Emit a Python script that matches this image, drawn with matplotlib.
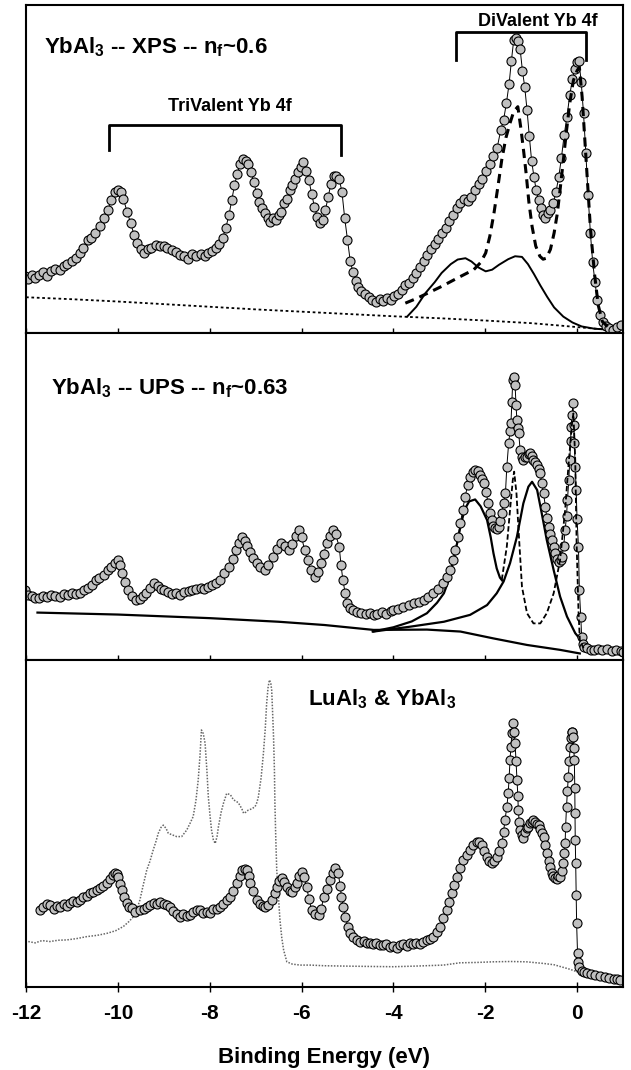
import matplotlib
matplotlib.use("Agg")
import matplotlib.pyplot as plt
from matplotlib import font_manager

names = {f.name for f in font_manager.fontManager.ttflist}
FONT = 'Liberation Sans Narrow' if 'Liberation Sans Narrow' in names else 'Liberation Sans'
plt.rcParams['font.family'] = [FONT, 'DejaVu Sans']
plt.rcParams['font.weight'] = 'bold'
plt.rcParams['mathtext.fontset'] = 'custom'
plt.rcParams['mathtext.rm'] = FONT + ':bold'
plt.rcParams['mathtext.it'] = FONT + ':bold'
plt.rcParams['mathtext.bf'] = FONT + ':bold'
plt.rcParams['mathtext.default'] = 'rm'

# ---------------- Data ----------------
# Top panel: YbAl3 XPS (binding energy eV, intensity in arbitrary units)
xps_e = [-12.03, -11.95, -11.88, -11.8, -11.71, -11.62, -11.55, -11.45, -11.36, -11.27, -11.18, -11.1, -11.0,
         -10.92, -10.83, -10.75, -10.66, -10.58, -10.49, -10.39, -10.3, -10.22, -10.14, -10.07, -10.0, -9.94,
         -9.88, -9.8, -9.72, -9.65, -9.58, -9.5, -9.43, -9.35, -9.27, -9.18, -9.08, -9.0, -8.92, -8.82, -8.73,
         -8.65, -8.56, -8.47, -8.38, -8.29, -8.2, -8.11, -8.03, -7.95, -7.87, -7.8, -7.72, -7.65, -7.58, -7.52,
         -7.46, -7.4, -7.34, -7.28, -7.22, -7.16, -7.1, -7.04, -6.98, -6.92, -6.86, -6.8, -6.74, -6.68, -6.62,
         -6.56, -6.5, -6.44, -6.38, -6.32, -6.26, -6.2, -6.14, -6.08, -6.02, -5.96, -5.9, -5.84, -5.78, -5.72,
         -5.66, -5.6, -5.54, -5.48, -5.42, -5.36, -5.3, -5.24, -5.18, -5.12, -5.06, -5.0, -4.94, -4.88, -4.82,
         -4.76, -4.7, -4.62, -4.54, -4.46, -4.38, -4.3, -4.22, -4.14, -4.06, -3.98, -3.9, -3.82, -3.74, -3.66,
         -3.58, -3.5, -3.42, -3.34, -3.26, -3.18, -3.1, -3.02, -2.94, -2.86, -2.78, -2.7, -2.62, -2.54, -2.46,
         -2.38, -2.3, -2.22, -2.14, -2.06, -1.98, -1.9, -1.82, -1.74, -1.66, -1.6, -1.54, -1.48, -1.43, -1.38,
         -1.33, -1.28, -1.24, -1.19, -1.14, -1.09, -1.04, -0.99, -0.94, -0.89, -0.84, -0.79, -0.74, -0.69,
         -0.64, -0.58, -0.52, -0.46, -0.4, -0.34, -0.28, -0.22, -0.16, -0.1, -0.05, 0.0, 0.04, 0.09, 0.14,
         0.19, 0.24, 0.29, 0.34, 0.39, 0.44, 0.5, 0.56, 0.63, 0.7, 0.78, 0.86, 0.95]
xps_i = [17.3, 16.5, 17.8, 16.8, 17.8, 18.5, 17.5, 18.8, 19.5, 19.3, 20.3, 21.0, 21.8,
         23.0, 24.4, 26.0, 28.4, 29.0, 30.5, 32.5, 35.0, 37.6, 40.5, 43.0, 43.5, 43.0,
         41.0, 37.0, 33.5, 30.0, 27.5, 25.5, 24.4, 25.5, 26.0, 26.8, 26.4, 26.5, 25.8, 25.4, 24.6,
         23.8, 23.4, 22.6, 24.0, 23.4, 24.2, 23.6, 24.4, 25.0, 25.8, 27.0, 29.0, 32.0, 36.0, 40.5,
         45.0, 48.5, 51.5, 53.0, 52.5, 51.5, 49.0, 46.0, 42.6, 40.0, 38.0, 36.5, 35.0, 33.8, 35.0,
         34.5, 36.0, 37.0, 39.5, 41.0, 43.5, 45.0, 47.0, 49.0, 50.5, 52.0, 49.5, 46.5, 42.5, 38.5,
         35.5, 33.5, 34.5, 37.5, 41.5, 45.5, 47.8, 48.0, 47.0, 43.0, 35.0, 28.5, 22.0, 18.5, 16.0,
         14.0, 12.8, 11.8, 11.0, 10.0, 9.5, 10.5, 9.8, 10.8, 10.2, 11.3, 11.8, 13.0, 14.5, 15.2,
         16.8, 18.3, 20.0, 21.8, 23.8, 25.5, 27.0, 28.6, 30.5, 32.0, 34.0, 36.0, 38.0, 39.5, 41.0,
         40.3, 41.5, 43.5, 45.5, 47.0, 49.5, 51.5, 54.0, 56.5, 62.0, 65.0, 70.0, 76.0, 83.0, 89.3,
         89.8, 89.0, 86.5, 80.0, 75.0, 68.0, 60.0, 52.5, 47.7, 43.5, 40.5, 38.0, 36.0, 35.0,
         36.5, 37.5, 39.5, 43.0, 47.5, 53.5, 60.5, 66.0, 72.5, 77.5, 80.5, 82.5, 83.0, 76.5, 67.0,
         55.0, 42.0, 30.5, 21.5, 15.5, 10.0, 5.5, 3.5, 2.2, 1.5, 1.0, 1.8, 2.5]

# Top panel fit: divalent total (thick dashed)
xps_fit_e = [-3.74, -3.5, -3.2, -2.95, -2.6, -2.25, -2.1, -1.99, -1.9, -1.81, -1.72, -1.64, -1.55, -1.46,
             -1.38, -1.29, -1.22, -1.16, -1.11, -1.05, -0.98, -0.9, -0.81, -0.74, -0.67, -0.58, -0.5,
             -0.43, -0.37, -0.3, -0.24, -0.16, -0.08, 0.0, 0.05, 0.11, 0.2, 0.29, 0.38, 0.46, 0.55, 0.7]
xps_fit_i = [9.1, 10.5, 12.5, 14.2, 16.8, 19.3, 21.5, 24.4, 29.5, 36.5, 45.0, 52.8, 59.5, 64.0,
             67.5, 69.0, 62.0, 55.0, 48.7, 40.0, 32.5, 26.5, 23.4, 22.5, 22.8, 25.5, 30.5,
             36.5, 43.7, 52.5, 60.5, 70.0, 77.0, 80.0, 81.0, 72.0, 52.0, 32.0, 18.0, 8.5, 3.5, 1.5]
# Top panel: other component (solid)
xps_comp_e = [-3.7, -3.5, -3.3, -3.1, -2.95, -2.75, -2.6, -2.43, -2.3, -2.15, -1.99, -1.85, -1.7, -1.5,
              -1.35, -1.2, -1.07, -0.94, -0.8, -0.65, -0.5, -0.3, -0.1, 0.1, 0.38, 0.7]
xps_comp_i = [5.0, 8.0, 12.2, 15.5, 18.3, 21.0, 22.4, 22.8, 21.8, 20.0, 18.8, 19.3, 20.8, 22.5,
              23.4, 23.2, 21.0, 18.0, 14.5, 11.0, 7.8, 5.0, 3.2, 2.0, 1.3, 1.0]
# Top panel background (thin dotted)
xps_bg_e = [-12.0, -11.0, -10.0, -9.0, -8.0, -7.0, -6.0, -5.0, -4.0, -3.0, -2.0, -1.0, -0.4, 0.0, 0.5, 0.9]
xps_bg_i = [10.9, 10.3, 9.6, 8.8, 8.0, 7.2, 6.5, 5.8, 5.1, 4.5, 3.8, 3.0, 2.3, 1.8, 1.2, 1.0]

# Middle panel: YbAl3 UPS
ups_e = [-12.03, -11.95, -11.88, -11.8, -11.71, -11.62, -11.54, -11.45, -11.36, -11.27, -11.18, -11.09,
         -11.0, -10.92, -10.83, -10.74, -10.66, -10.57, -10.48, -10.4, -10.31, -10.22, -10.14, -10.07,
         -10.0, -9.95, -9.9, -9.84, -9.78, -9.7, -9.61, -9.52, -9.45, -9.39, -9.3, -9.21, -9.12, -9.05,
         -8.99, -8.9, -8.82, -8.73, -8.64, -8.55, -8.46, -8.38, -8.3, -8.2, -8.12, -8.03, -7.95, -7.86,
         -7.77, -7.68, -7.59, -7.5, -7.42, -7.36, -7.3, -7.24, -7.18, -7.12, -7.05, -6.98, -6.9, -6.8,
         -6.72, -6.63, -6.54, -6.45, -6.37, -6.28, -6.2, -6.12, -6.06, -6.0, -5.93, -5.87, -5.8, -5.71,
         -5.64, -5.58, -5.52, -5.45, -5.38, -5.32, -5.26, -5.18, -5.14, -5.1, -5.05, -5.01, -4.95, -4.88,
         -4.8, -4.7, -4.6, -4.5, -4.42, -4.35, -4.25, -4.15, -4.05, -4.0, -3.9, -3.78, -3.67, -3.56,
         -3.45, -3.34, -3.24, -3.13, -3.02, -2.91, -2.83, -2.76, -2.7, -2.65, -2.6, -2.54, -2.49, -2.44,
         -2.38, -2.33, -2.27, -2.22, -2.16, -2.11, -2.06, -2.02, -1.98, -1.94, -1.9, -1.86, -1.82, -1.78,
         -1.74, -1.71, -1.67, -1.64, -1.6, -1.56, -1.53, -1.49, -1.46, -1.44, -1.42, -1.4, -1.37, -1.35,
         -1.33, -1.31, -1.29, -1.27, -1.24, -1.21, -1.18, -1.14, -1.09, -1.05, -1.02, -0.98, -0.95, -0.91,
         -0.87, -0.84, -0.8, -0.77, -0.73, -0.69, -0.66, -0.62, -0.58, -0.55, -0.51, -0.47, -0.44, -0.4,
         -0.36, -0.33, -0.29, -0.26, -0.23, -0.21, -0.18, -0.16, -0.14, -0.13, -0.11, -0.09, -0.07, -0.06,
         -0.04, -0.02, 0.0, 0.03, 0.05, 0.08, 0.1, 0.13, 0.16, 0.22, 0.3, 0.36, 0.45, 0.55, 0.65, 0.75,
         0.85, 0.95, 1.0]
ups_i = [21.4, 20.0, 19.5, 19.0, 18.9, 19.6, 19.2, 19.9, 19.5, 19.4, 20.2, 20.0,
         20.6, 20.2, 20.4, 21.5, 22.0, 23.0, 24.5, 25.2, 26.0, 27.5, 28.5, 29.8,
         30.6, 29.0, 26.5, 23.8, 21.4, 19.5, 18.3, 18.8, 19.6, 20.4, 22.0, 23.4, 22.6, 21.8,
         21.4, 20.8, 20.2, 20.4, 20.0, 20.8, 21.0, 21.4, 21.8, 22.0, 21.6, 22.4, 22.8, 23.5,
         24.5, 26.5, 28.5, 31.0, 33.6, 35.8, 37.7, 36.5, 34.8, 33.0, 31.2, 29.6, 28.3, 27.5,
         29.0, 31.6, 33.8, 35.7, 35.0, 33.6, 35.5, 38.0, 39.8, 37.5, 33.6, 30.5, 27.5, 25.5,
         27.0, 29.6, 32.5, 35.7, 38.0, 39.8, 38.5, 34.7, 29.0, 24.5, 20.5, 17.3, 16.0, 15.3,
         14.8, 14.3, 14.0, 14.5, 13.8, 14.2, 14.6, 14.2, 15.0, 15.3, 15.6, 16.3, 16.8, 17.3,
         17.8, 18.3, 19.3, 20.4, 21.8, 23.4, 25.5, 27.5, 30.5, 33.6, 37.5, 41.8, 46.0, 49.9,
         53.5, 56.1, 57.5, 58.1, 57.8, 56.6, 55.5, 54.0, 51.5, 48.0, 45.0, 42.8, 41.0, 40.3,
         40.0, 40.8, 42.5, 44.9, 48.0, 51.0, 59.1, 66.3, 70.0, 72.4, 79.0, 85.6, 86.5, 84.1,
         78.0, 73.4, 71.0, 69.3, 64.2, 62.0, 61.2, 62.0, 62.2, 63.0, 63.2, 62.5, 61.2, 60.5,
         59.6, 58.5, 57.1, 54.0, 51.0, 46.9, 43.5, 40.8, 38.5, 36.7, 34.5, 32.6, 31.0, 30.1,
         30.5, 31.6, 35.0, 39.8, 44.0, 48.9, 55.0, 61.2, 67.0, 71.4, 75.0, 78.5, 72.0, 66.3,
         59.0, 52.0, 43.0, 34.7, 21.4, 13.3, 7.1, 5.0, 4.1, 3.6, 3.2, 3.1, 3.4, 3.0, 3.3, 2.8,
         3.0, 2.6, 2.5]

# Middle panel fit components
ups_pa_e = [-4.45, -4.0, -3.6, -3.27, -3.05, -2.9, -2.78, -2.69, -2.6, -2.54, -2.45, -2.35, -2.22, -2.1,
            -1.96, -1.88, -1.82, -1.75, -1.68, -1.63]
ups_pa_i = [8.7, 10.0, 11.8, 14.3, 17.5, 20.4, 25.0, 30.6, 36.5, 40.8, 46.0, 48.5, 49.1, 47.0,
            42.8, 37.5, 32.6, 28.0, 25.2, 24.3]
ups_pc_e = [-4.43, -3.63, -2.9, -2.33, -1.96, -1.75, -1.6, -1.46, -1.31, -1.17, -1.06, -0.98, -0.87,
            -0.77, -0.66, -0.51, -0.37, -0.22, -0.04, 0.14, 0.29]
ups_pc_i = [8.7, 10.2, 11.7, 13.8, 16.8, 20.4, 24.0, 29.6, 37.7, 47.9, 53.0, 54.5, 52.0,
            44.9, 36.7, 27.5, 19.4, 13.3, 8.2, 5.1, 4.1]
ups_pd_e = [-1.64, -1.53, -1.46, -1.4, -1.37, -1.32, -1.27, -1.2, -1.09, -0.95, -0.8, -0.66, -0.51,
            -0.37, -0.26, -0.19, -0.11, -0.08, -0.04, -0.01, 0.03, 0.06, 0.14]
ups_pd_i = [24.5, 34.7, 45.9, 55.0, 57.6, 51.0, 38.7, 22.4, 14.3, 11.2, 11.2, 14.3, 20.4,
            30.6, 45.9, 59.0, 72.4, 75.4, 61.2, 35.7, 15.3, 6.1, 3.6]
ups_bg_e = [-11.75, -10.0, -8.0, -6.5, -5.5, -4.43, -3.27, -2.54, -1.82, -1.09, -0.37, 0.06]
ups_bg_i = [14.5, 13.9, 12.8, 11.7, 10.7, 9.2, 9.3, 8.7, 6.6, 4.6, 3.1, 2.0]

# Bottom panel: YbAl3 (circles) and LuAl3 (dotted grey)
yb_e = [-11.7, -11.62, -11.55, -11.48, -11.4, -11.33, -11.26, -11.18, -11.11, -11.04, -10.97, -10.9,
        -10.83, -10.76, -10.68, -10.61, -10.54, -10.46, -10.39, -10.32, -10.24, -10.16, -10.1, -10.06,
        -10.02, -9.99, -9.95, -9.92, -9.87, -9.81, -9.75, -9.7, -9.62, -9.52, -9.44, -9.37, -9.3, -9.22,
        -9.15, -9.08, -9.0, -8.93, -8.86, -8.79, -8.72, -8.65, -8.58, -8.5, -8.43, -8.36, -8.28, -8.21,
        -8.14, -8.06, -7.99, -7.92, -7.85, -7.78, -7.7, -7.63, -7.56, -7.49, -7.41, -7.35, -7.3, -7.24,
        -7.19, -7.15, -7.12, -7.06, -6.97, -6.9, -6.83, -6.79, -6.72, -6.65, -6.58, -6.54, -6.48, -6.43,
        -6.38, -6.32, -6.26, -6.21, -6.15, -6.1, -6.05, -6.0, -5.95, -5.89, -5.84, -5.78, -5.7, -5.63,
        -5.57, -5.52, -5.45, -5.38, -5.32, -5.27, -5.2, -5.16, -5.13, -5.09, -5.05, -4.99, -4.94, -4.87,
        -4.8, -4.72, -4.65, -4.58, -4.51, -4.44, -4.37, -4.29, -4.22, -4.15, -4.07, -4.0, -3.93, -3.86,
        -3.78, -3.71, -3.64, -3.57, -3.5, -3.42, -3.35, -3.27, -3.2, -3.13, -3.06, -2.99, -2.92, -2.84,
        -2.78, -2.73, -2.67, -2.62, -2.55, -2.48, -2.4, -2.33, -2.26, -2.19, -2.13, -2.08, -2.02, -1.97,
        -1.91, -1.86, -1.8, -1.75, -1.69, -1.64, -1.6, -1.57, -1.53, -1.5, -1.48, -1.46, -1.44, -1.42,
        -1.39, -1.37, -1.35, -1.33, -1.31, -1.29, -1.28, -1.26, -1.24, -1.21, -1.17, -1.13, -1.09, -1.06,
        -1.02, -0.99, -0.95, -0.91, -0.88, -0.84, -0.8, -0.76, -0.73, -0.7, -0.66, -0.62, -0.59, -0.55,
        -0.52, -0.48, -0.44, -0.41, -0.37, -0.33, -0.3, -0.28, -0.26, -0.25, -0.23, -0.21, -0.19, -0.17,
        -0.15, -0.14, -0.12, -0.1, -0.08, -0.07, -0.06, -0.05, -0.045, -0.04, -0.03, -0.02, -0.01, 0.01,
        0.03, 0.05, 0.1, 0.16, 0.21, 0.3, 0.4, 0.5, 0.6, 0.7, 0.8, 0.88, 0.94]
yb_i = [23.5, 24.5, 25.3, 25.1, 24.0, 24.8, 24.6, 25.5, 24.9, 25.6, 26.3, 25.9,
        26.6, 27.5, 27.8, 28.6, 29.0, 29.8, 30.2, 31.0, 31.7, 33.0, 34.2, 34.8,
        34.5, 33.7, 31.5, 29.7, 27.5, 25.6, 24.6, 24.1, 23.0, 23.5, 24.0, 24.5, 25.1, 25.8,
        25.5, 26.1, 25.5, 25.0, 24.6, 23.3, 22.2, 21.5, 22.4, 21.8, 22.0, 22.8, 23.4, 23.5,
        22.6, 23.0, 22.5, 23.8, 24.0, 24.6, 25.5, 26.5, 27.6, 29.5, 31.7, 34.0, 35.8, 36.2,
        35.8, 33.8, 31.7, 29.5, 26.6, 25.5, 24.8, 24.6, 25.2, 26.6, 28.8, 30.7, 32.5, 33.2,
        32.0, 30.7, 29.5, 29.2, 30.5, 31.7, 33.8, 35.3, 33.5, 30.7, 27.0, 23.5, 22.3, 22.0,
        23.8, 27.6, 30.0, 32.7, 35.0, 36.3, 34.8, 31.0, 27.6, 24.5, 21.5, 18.5, 16.4, 15.3,
        14.4, 13.8, 14.2, 13.4, 13.4, 13.0, 13.6, 12.9, 12.8, 13.3, 12.2, 12.6, 11.8, 12.7,
        13.0, 12.4, 13.4, 13.0, 13.6, 13.3, 13.9, 14.5, 14.8, 15.4, 16.8, 18.5, 21.0, 23.5,
        26.0, 28.6, 31.2, 33.7, 36.5, 38.8, 40.5, 41.9, 43.5, 44.4, 44.2, 43.4, 41.5, 39.9,
        38.6, 37.8, 38.6, 39.9, 41.5, 43.9, 47.5, 51.1, 55.0, 59.2, 64.0, 69.4, 73.5, 77.6,
        80.6, 78.0, 74.5, 69.0, 63.3, 58.5, 54.1, 50.5, 48.0, 46.5, 45.5, 47.5, 48.5, 49.0,
        50.3, 50.5, 51.1, 50.5, 50.0, 49.5, 48.2, 47.0, 46.0, 43.5, 40.9, 38.5, 36.8, 35.0,
        34.0, 33.2, 33.0, 33.8, 33.7, 35.5, 37.8, 41.0, 43.9, 49.0, 55.1, 60.0, 64.3, 69.0,
        73.5, 76.0, 78.1, 78.0, 76.5, 73.0, 69.4, 61.0, 53.1, 45.0, 37.8, 28.0, 19.5, 10.3,
        7.5, 6.2, 5.0, 4.5, 4.2, 3.9, 3.6, 3.4, 3.0, 2.8, 2.5, 2.3, 2.1]

lu_e = [-11.95, -11.8, -11.65, -11.48, -11.3, -11.11, -10.9, -10.68, -10.45, -10.24, -10.05, -9.88,
        -9.76, -9.66, -9.58, -9.52, -9.45, -9.37, -9.3, -9.23, -9.17, -9.12, -9.06, -9.01, -8.95, -8.9,
        -8.81, -8.72, -8.61, -8.5, -8.43, -8.36, -8.3, -8.25, -8.21, -8.18, -8.14, -8.1, -8.06, -8.03,
        -7.99, -7.96, -7.92, -7.88, -7.84, -7.81, -7.75, -7.7, -7.63, -7.55, -7.48, -7.42, -7.37, -7.3,
        -7.26, -7.21, -7.16, -7.08, -7.01, -6.97, -6.94, -6.88, -6.83, -6.79, -6.76, -6.73, -6.7, -6.67,
        -6.65, -6.63, -6.61, -6.59, -6.58, -6.56, -6.54, -6.5, -6.47, -6.43, -6.39, -6.32, -6.2, -6.03,
        -5.81, -5.5, -5.09, -4.6, -4.0, -3.5, -2.91, -2.55, -2.2, -1.83, -1.45, -1.1, -0.73, -0.5, -0.3,
        -0.15, -0.01, 0.06, 0.14]
lu_i = [13.9, 13.5, 14.2, 13.9, 14.3, 14.4, 14.8, 15.4, 15.8, 16.4, 17.2, 18.5,
        20.0, 21.5, 24.0, 26.6, 31.0, 35.8, 38.5, 41.9, 44.5, 47.0, 48.8, 49.5, 48.5, 47.0,
        46.5, 46.0, 46.0, 48.0, 50.0, 52.1, 57.0, 63.3, 71.0, 78.6, 77.5, 74.5, 66.0, 58.2,
        52.0, 48.0, 45.0, 43.9, 46.0, 49.0, 53.5, 56.2, 59.2, 58.8, 57.2, 56.8, 56.2, 54.5,
        53.1, 53.5, 54.1, 54.5, 55.2, 56.5, 58.2, 64.0, 71.5, 79.0, 86.7, 91.5, 93.9, 93.0,
        90.8, 84.0, 76.6, 66.0, 56.2, 45.0, 35.8, 27.0, 20.5, 15.0, 11.3, 7.7, 7.0, 6.7,
        6.7, 6.5, 6.4, 6.3, 6.2, 6.4, 6.7, 7.4, 7.5, 7.7, 7.8, 7.7, 7.2, 6.8, 6.0,
        5.4, 4.7, 4.0, 3.4]

xticks = [-12, -10, -8, -6, -4, -2, 0]
xticklabels = ['-12', '-10', '-8', '-6', '-4', '-2', '0']

# ---------------- Figure ----------------
fig = plt.figure(figsize=(6.31, 10.70), dpi=100)
L, W = 26 / 631, (623 - 26) / 631
panels_px = [(5, 333), (333, 660), (660, 987)]
axes = []
for top, bot in panels_px:
    ax = fig.add_axes([L, 1 - bot / 1070, W, (bot - top) / 1070])
    ax.set_xlim(-12, 1)
    ax.set_ylim(0, 100)
    ax.set_yticks([])
    ax.set_xticks(xticks)
    ax.tick_params(axis='x', direction='inout', length=7, width=1.0, labelbottom=False)
    for s in ax.spines.values():
        s.set_linewidth(1.5)
    axes.append(ax)

mk = dict(marker='o', ms=6.5, mfc='#c0c0c0', mec='black', mew=0.8, color='black', lw=0.7)

# Top
ax = axes[0]
ax.plot(xps_bg_e, xps_bg_i, ls=(0, (1.5, 1.5)), color='black', lw=1.3)
ax.plot(xps_comp_e, xps_comp_i, '-', color='black', lw=1.4)
ax.plot(xps_e, xps_i, **mk)
ax.plot(xps_fit_e, xps_fit_i, ls=(0, (3, 2)), color='black', lw=2.2)
ax.plot([-10.2, -10.2, -5.14, -5.14], [55.8, 63.5, 63.5, 54.3], color='black', lw=2)
ax.text(-7.55, 66.5, 'TriValent Yb 4f', ha='center', va='bottom', fontsize=13, fontweight='bold')
ax.plot([-2.63, -2.63, 0.2, 0.2], [83.2, 91.9, 91.9, 83.2], color='black', lw=2)
ax.text(-0.85, 92.5, 'DiValent Yb 4f', ha='center', va='bottom', fontsize=13, fontweight='bold')
ax.text(-11.6, 87.0, r'YbAl$_3$ -- XPS -- n$_f$~0.6', ha='left', va='center', fontsize=16, fontweight='bold')

# Middle
ax = axes[1]
ax.plot(ups_bg_e, ups_bg_i, '-', color='black', lw=1.6)
ax.plot(ups_pa_e, ups_pa_i, '-', color='black', lw=1.6)
ax.plot(ups_pc_e, ups_pc_i, '-', color='black', lw=1.6)
ax.plot(ups_e, ups_i, **mk)
ax.plot(ups_pd_e, ups_pd_i, ls=(0, (3, 1.5)), color='black', lw=1.3)
ax.text(-11.45, 83.0, r'YbAl$_3$ -- UPS -- n$_f$~0.63', ha='left', va='center', fontsize=16, fontweight='bold')

# Bottom
ax = axes[2]
ax.plot(lu_e, lu_i, ls=(0, (1, 1)), color='#666666', lw=1.1)
ax.plot(yb_e, yb_i, **mk)
ax.text(-5.85, 88.0, r'LuAl$_3$ & YbAl$_3$', ha='left', va='center', fontsize=16, fontweight='bold')
ax.tick_params(axis='x', labelbottom=True, labelsize=15, pad=9)
ax.set_xticklabels(xticklabels, fontweight='bold')
ax.set_xlabel('Binding Energy (eV)', fontsize=16, fontweight='bold', labelpad=17)

fig.savefig('out.png', dpi=100)
